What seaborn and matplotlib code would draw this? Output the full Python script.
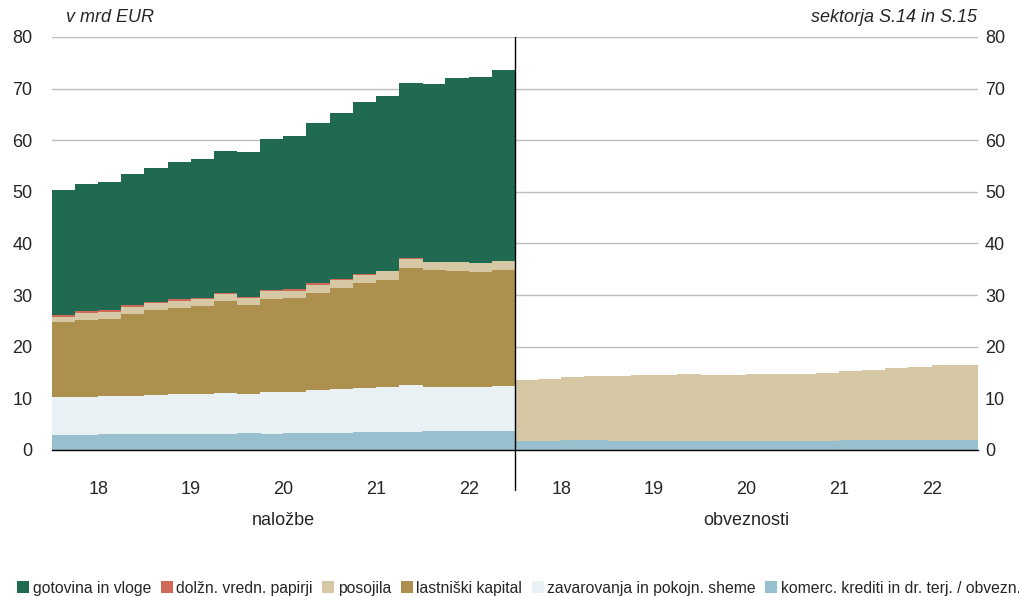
import numpy as np
import pandas as pd
import seaborn as sns
import matplotlib.pyplot as plt
from matplotlib.patches import Patch
from matplotlib import transforms

years = ["18", "19", "20", "21", "22"]
categories = ["gotovina in vloge", "dolžn. vredn. papirji", "posojila",
              "lastniški kapital", "zavarovanja in pokojn. sheme",
              "komerc. krediti in dr. terj. / obvezn."]
colors = ["#1f6a50", "#d0685a", "#d6c8a5", "#ae904e", "#e9f1f4", "#97bfcd"]
sides = ["naložbe", "obveznosti"]

# naložbe (assets), quarterly 2018Q1-2022Q4, bn EUR
a_gotovina = [24.25, 24.55, 24.9, 25.3, 25.85, 26.55, 26.9, 27.4, 28.1, 29.25,
              29.65, 31.05, 32.1, 33.25, 33.75, 33.85, 34.3, 35.55, 35.9, 36.9]
a_dolzn = [0.3, 0.35, 0.3, 0.35, 0.3, 0.3, 0.3, 0.3, 0.3, 0.25,
           0.3, 0.25, 0.2, 0.2, 0.15, 0.1, 0.1, 0.1, 0.1, 0.1]
a_posojila = [1.15, 1.45, 1.45, 1.35, 1.35, 1.35, 1.25, 1.35, 1.35, 1.5,
              1.5, 1.5, 1.55, 1.6, 1.7, 1.8, 1.55, 1.7, 1.75, 1.75]
a_lastniski = [14.5, 14.85, 14.9, 15.95, 16.5, 16.7, 17.05, 17.75, 17.3, 17.9,
               18.2, 18.85, 19.5, 20.25, 20.65, 22.75, 22.6, 22.4, 22.2, 22.5]
a_zavar = [7.3, 7.35, 7.45, 7.45, 7.55, 7.7, 7.75, 7.95, 7.55, 8.25,
           7.85, 8.35, 8.5, 8.7, 8.75, 9.0, 8.65, 8.65, 8.55, 8.65]
a_komerc = [2.9, 2.95, 3.0, 3.0, 3.05, 3.1, 3.15, 3.15, 3.2, 3.05,
            3.3, 3.3, 3.35, 3.4, 3.5, 3.5, 3.6, 3.6, 3.7, 3.7]

# obveznosti (liabilities)
l_posojila = [11.9, 12.05, 12.2, 12.4, 12.55, 12.7, 12.85, 12.95, 12.9, 12.85,
              13.05, 13.05, 13.1, 13.25, 13.4, 13.65, 13.95, 14.3, 14.65, 14.65]
l_komerc = [1.7, 1.75, 1.9, 1.85, 1.75, 1.75, 1.75, 1.7, 1.7, 1.7,
            1.7, 1.7, 1.7, 1.75, 1.9, 1.9, 1.9, 1.85, 1.9, 1.9]

zeros = [0.0] * 20
series = {
    "naložbe": [a_gotovina, a_dolzn, a_posojila, a_lastniski, a_zavar, a_komerc],
    "obveznosti": [zeros, zeros, l_posojila, zeros, zeros, l_komerc],
}

rows = []
for s, side in enumerate(sides):
    for cat, vals in zip(categories, series[side]):
        for i, v in enumerate(vals):
            rows.append({"pos": i + 20 * s, "category": cat, "value": v})
df = pd.DataFrame(rows)

# cumulative tops, bottom (komerc) -> top (gotovina)
wide = df.pivot(index="pos", columns="category", values="value")[categories[::-1]]
cum = wide.cumsum(axis=1)

sns.set_style("white")
plt.rcParams["font.family"] = ["Liberation Sans", "DejaVu Sans"]

fig = plt.figure(figsize=(10.2, 5.96), dpi=100)
ax = fig.add_axes([0.051, 0.245, 0.908, 0.693])

ax.yaxis.grid(True, color="#bdbdbd", linewidth=1)
ax.set_axisbelow(True)

# draw from the top layer downward so lower layers cover upper ones
for cat, col in zip(categories, colors):
    d = cum[cat].reset_index()
    sns.barplot(data=d, x="pos", y=cat, native_scale=True, width=1.02,
                color=col, saturation=1, errorbar=None, linewidth=0, ax=ax)

ax.set_xlim(-0.5, 39.5)
ax.set_ylim(0, 80)
ax.set_xlabel("")
ax.set_ylabel("")
for sp in ["left", "right", "top"]:
    ax.spines[sp].set_visible(False)
ax.spines["bottom"].set_color("black")
ax.spines["bottom"].set_linewidth(1)

# year labels centred, ticks at year boundaries
ax.set_xticks([1.5 + 4 * k for k in range(10)])
ax.set_xticklabels(years * 2, fontsize=13)
ax.set_xticks([-0.5 + 4 * k for k in range(11)], minor=True)
ax.tick_params(axis="x", which="major", length=0, pad=22)
ax.tick_params(axis="x", which="minor", length=4, width=1, color="black", direction="out")

yt = list(range(0, 81, 10))
ax.set_yticks(yt)
ax.set_yticklabels([str(v) for v in yt], fontsize=13)
ax.tick_params(axis="y", length=0, pad=14)

ax2 = ax.twinx()
ax2.set_ylim(0, 80)
ax2.set_yticks(yt)
ax2.set_yticklabels([str(v) for v in yt], fontsize=13)
ax2.tick_params(axis="y", length=0, pad=5)
for sp in ax2.spines.values():
    sp.set_visible(False)

ax.axvline(19.5, ymin=-0.097, ymax=1, color="black", linewidth=1, clip_on=False)

trans = transforms.blended_transform_factory(ax.transData, ax.transAxes)
ax.text(9.5, -0.17, "naložbe", transform=trans, ha="center", va="center", fontsize=13)
ax.text(29.5, -0.17, "obveznosti", transform=trans, ha="center", va="center", fontsize=13)

fig.text(66 / 1020, 1 - 18 / 596, "v mrd EUR", style="italic", fontsize=13, va="center")
fig.text(977 / 1020, 1 - 18 / 596, "sektorja S.14 in S.15", style="italic",
         fontsize=13, va="center", ha="right")

handles = [Patch(facecolor=c, edgecolor="none") for c in colors]
fig.legend(handles, categories, loc="center", bbox_to_anchor=(0.509, 1 - 588 / 596),
           ncol=6, frameon=False, fontsize=11.3, handlelength=0.75, handleheight=0.75,
           handletextpad=0.25, columnspacing=0.6, borderaxespad=0)

fig.savefig("out.png", dpi=100)
